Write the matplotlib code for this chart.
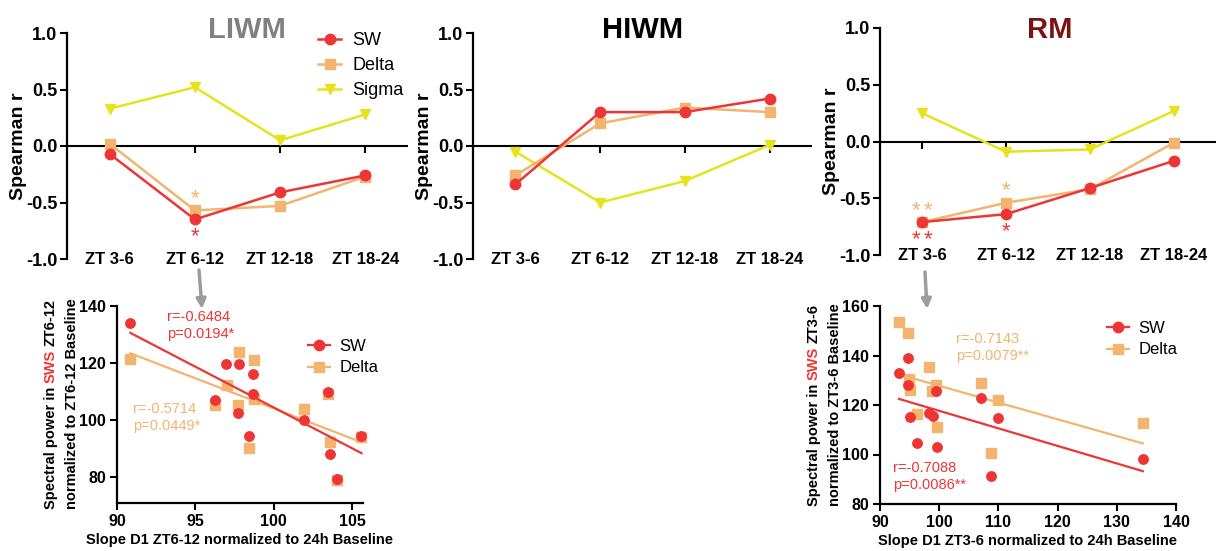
import matplotlib.pyplot as plt
import numpy as np
from matplotlib.lines import Line2D

plt.rcParams['font.family'] = ['Liberation Sans', 'DejaVu Sans']
plt.rcParams['axes.unicode_minus'] = False

W, H = 1217, 551

# top panels: Spearman r per time window
zt_labels = ['ZT 3-6', 'ZT 6-12', 'ZT 12-18', 'ZT 18-24']

liwm_sw = [-0.07, -0.65, -0.41, -0.26]
liwm_delta = [0.02, -0.57, -0.53, -0.27]
liwm_sigma = [0.33, 0.52, 0.05, 0.28]

hiwm_sw = [-0.34, 0.30, 0.30, 0.42]
hiwm_delta = [-0.26, 0.20, 0.34, 0.30]
hiwm_sigma = [-0.05, -0.50, -0.31, 0.01]

rm_sw = [-0.71, -0.64, -0.41, -0.17]
rm_delta = [-0.71, -0.54, -0.42, -0.01]
rm_sigma = [0.25, -0.09, -0.07, 0.27]

# bottom-left scatter (ZT6-12, LIWM)
l_sw_x = [90.85, 96.98, 97.77, 97.71, 96.28, 98.40, 98.68, 98.68, 101.96, 103.45, 103.62, 104.04, 105.6]
l_sw_y = [134.1, 119.8, 119.8, 102.5, 107.2, 94.3, 116.3, 109.1, 100.2, 109.9, 88.0, 79.4, 94.4]
l_delta_x = [90.85, 97.77, 98.72, 97.02, 96.28, 97.71, 98.72, 98.40, 101.96, 103.45, 103.62, 104.04, 105.6]
l_delta_y = [121.4, 124.0, 121.0, 112.2, 105.4, 105.4, 107.5, 90.3, 104.0, 109.1, 92.4, 79.2, 94.1]

# bottom-right scatter (ZT3-6, RM)
r_sw_x = [93.2, 94.8, 94.8, 95.0, 96.2, 98.3, 98.9, 99.4, 99.6, 107.1, 108.8, 110.0, 134.4]
r_sw_y = [132.8, 138.9, 128.1, 115.3, 104.5, 116.9, 115.6, 125.7, 103.2, 122.8, 91.4, 114.6, 98.0]
r_delta_x = [93.2, 94.8, 94.9, 95.0, 96.3, 98.3, 98.7, 99.5, 99.6, 107.0, 108.8, 110.0, 134.4]
r_delta_y = [153.7, 149.0, 130.4, 126.1, 116.2, 135.2, 125.7, 128.1, 111.2, 129.0, 100.7, 122.0, 112.9]

red = '#EE3535'
orange = '#F2B46E'
yellow = '#E6E21E'
grey_title = '#808080'
rm_color = '#7A1212'


def box(left, top, right, bottom):
    return [left / W, 1 - bottom / H, (right - left) / W, (bottom - top) / H]


fig = plt.figure(figsize=(W / 100, H / 100), dpi=100)


def top_panel(ax, sw, delta, sigma):
    x = np.arange(len(zt_labels))
    ax.plot(x, sigma, color=yellow, marker='v', ms=7.5, lw=1.8, label='Sigma', zorder=3, clip_on=False)
    ax.plot(x, delta, color=orange, marker='s', ms=7, lw=1.8, label='Delta', zorder=4, clip_on=False)
    ax.plot(x, sw, color=red, marker='o', ms=7.5, lw=1.8, label='SW', zorder=5, clip_on=False)
    ax.set_xlim(-0.5, 3.5)
    ax.set_ylim(-1, 1)
    for s in ['top', 'right', 'bottom']:
        ax.spines[s].set_visible(False)
    ax.spines['left'].set_linewidth(1.6)
    ax.axhline(0, color='black', lw=1.5, zorder=2)
    ax.plot(x, np.zeros(len(x)), ls='none', marker=3, ms=5, mew=1.5, color='black', zorder=2)
    ax.set_xticks([])
    for i, lab in enumerate(zt_labels):
        ax.text(i, -1.0, lab, ha='center', va='center', fontsize=12, fontweight='bold')
    ax.set_yticks([-1, -0.5, 0, 0.5, 1])
    ax.set_yticklabels(['-1.0', '-0.5', '0.0', '0.5', '1.0'])
    ax.tick_params(axis='y', length=5, width=1.5, pad=2, labelsize=13)
    for t in ax.get_yticklabels():
        t.set_fontweight('bold')
    ax.set_ylabel('Spearman r', fontsize=14, fontweight='bold', labelpad=-1)
    ax.patch.set_visible(False)


def star(ax, n, x, y, color, up):
    dy = 8.5 if up else -12.5
    offsets = [0] if n == 1 else [-4.4, 4.4]
    for dx in offsets:
        ax.annotate('*', xy=(x, y), xytext=(dx, dy), textcoords='offset points',
                    ha='center', va='center', color=color, fontsize=16)


ax1 = fig.add_axes(box(67, 33, 408, 259))
top_panel(ax1, liwm_sw, liwm_delta, liwm_sigma)
star(ax1, 1, 1, liwm_delta[1], orange, True)
star(ax1, 1, 1, liwm_sw[1], red, False)
ax1.legend(loc='center left', bbox_to_anchor=(318 / W, 1 - 65.5 / H), bbox_transform=fig.transFigure,
           frameon=False, fontsize=13, handlelength=1.3, handletextpad=0.6, labelspacing=0.45,
           borderpad=0, borderaxespad=0, reverse=True)

ax2 = fig.add_axes(box(473, 33, 812, 259))
top_panel(ax2, hiwm_sw, hiwm_delta, hiwm_sigma)

ax3 = fig.add_axes(box(880, 28, 1216, 255))
top_panel(ax3, rm_sw, rm_delta, rm_sigma)
star(ax3, 2, 0, rm_delta[0], orange, True)
star(ax3, 2, 0, rm_sw[0], red, False)
star(ax3, 1, 1, rm_delta[1], orange, True)
star(ax3, 1, 1, rm_sw[1], red, False)

fig.text(247 / W, 1 - 38 / H, 'LIWM', ha='center', va='baseline', fontsize=21, fontweight='bold', color=grey_title)
fig.text(643 / W, 1 - 38 / H, 'HIWM', ha='center', va='baseline', fontsize=21, fontweight='bold', color='black')
fig.text(1050 / W, 1 - 38 / H, 'RM', ha='center', va='baseline', fontsize=21, fontweight='bold', color=rm_color)


def scatter_panel(ax, sx, sy, dx, dy):
    for xs, ys, c, m in [(dx, dy, orange, 's'), (sx, sy, red, 'o')]:
        xs = np.array(xs)
        ys = np.array(ys)
        ax.plot(xs, ys, ls='none', marker=m, ms=6.8, color=c, clip_on=False)
        coef = np.polyfit(xs, ys, 1)
        xl = np.array([xs.min(), xs.max()])
        ax.plot(xl, np.polyval(coef, xl), color=c, lw=1.6)
    for s in ['top', 'right']:
        ax.spines[s].set_visible(False)
    for s in ['left', 'bottom']:
        ax.spines[s].set_linewidth(1.6)
    ax.tick_params(length=5, width=1.5, labelsize=11.5, pad=3)
    ax.patch.set_visible(False)
    handles = [Line2D([], [], color=red, marker='o', ms=7.5, lw=1.6),
               Line2D([], [], color=orange, marker='s', ms=7.5, lw=1.6)]
    return handles


ax4 = fig.add_axes(box(117, 306, 363, 503))
h4 = scatter_panel(ax4, l_sw_x, l_sw_y, l_delta_x, l_delta_y)
ax4.set_xlim(90, 105.7)
ax4.set_ylim(71, 140)
ax4.set_xticks([90, 95, 100, 105])
ax4.set_yticks([80, 100, 120, 140])
for t in ax4.get_xticklabels() + ax4.get_yticklabels():
    t.set_fontweight('bold')
ax4.set_xlabel('Slope D1 ZT6-12 normalized to 24h Baseline', fontsize=10.5, fontweight='bold', labelpad=3)
ax4.legend(h4, ['SW', 'Delta'], loc='center left', bbox_to_anchor=(308 / W, 1 - 357 / H),
           bbox_transform=fig.transFigure, frameon=False, fontsize=12, handlelength=1.3,
           handletextpad=0.6, labelspacing=0.4, borderpad=0, borderaxespad=0)
ax4.text(93.2, 138.6, 'r=-0.6484\np=0.0194*', color=red, fontsize=10.5, va='top', ha='left', linespacing=1.25)
ax4.text(91.0, 106.3, 'r=-0.5714\np=0.0449*', color=orange, fontsize=10.5, va='top', ha='left', linespacing=1.25)

ax5 = fig.add_axes(box(880, 306, 1176, 504))
h5 = scatter_panel(ax5, r_sw_x, r_sw_y, r_delta_x, r_delta_y)
ax5.set_xlim(90, 140)
ax5.set_ylim(80, 160)
ax5.set_xticks([90, 100, 110, 120, 130, 140])
ax5.set_yticks([80, 100, 120, 140, 160])
for t in ax5.get_xticklabels() + ax5.get_yticklabels():
    t.set_fontweight('bold')
ax5.set_xlabel('Slope D1 ZT3-6 normalized to 24h Baseline', fontsize=10.5, fontweight='bold', labelpad=3)
ax5.legend(h5, ['SW', 'Delta'], loc='center left', bbox_to_anchor=(1107 / W, 1 - 339 / H),
           bbox_transform=fig.transFigure, frameon=False, fontsize=12, handlelength=1.3,
           handletextpad=0.6, labelspacing=0.4, borderpad=0, borderaxespad=0)
ax5.text(102.8, 149.5, 'r=-0.7143\np=0.0079**', color=orange, fontsize=10.5, va='top', ha='left', linespacing=1.25)
ax5.text(92.2, 97.4, 'r=-0.7088\np=0.0086**', color=red, fontsize=10.5, va='top', ha='left', linespacing=1.25)

# two-line y labels, first line with red "SWS"
renderer = fig.canvas.get_renderer()
ylab_size = 10.5


def colored_ylabel(x1, x2, yc, zt):
    pieces = [('Spectral power in', 'black'), ('SWS', red), (zt, 'black')]
    probe1 = fig.text(0, 0, 'a a', fontsize=ylab_size, fontweight='bold', rotation=90)
    probe2 = fig.text(0, 0, 'aa', fontsize=ylab_size, fontweight='bold', rotation=90)
    gap = probe1.get_window_extent(renderer).height - probe2.get_window_extent(renderer).height
    probe1.remove()
    probe2.remove()
    texts, hs = [], []
    for s, c in pieces:
        t = fig.text(0, 0, s, rotation=90, color=c, fontsize=ylab_size, fontweight='bold', ha='center', va='bottom')
        texts.append(t)
        hs.append(t.get_window_extent(renderer).height)
    total = sum(hs) + gap * (len(hs) - 1)
    y = (H - yc) - total / 2
    for t, h in zip(texts, hs):
        t.set_position((x1 / W, y / H))
        y += h + gap
    fig.text(x2 / W, 1 - yc / H, 'normalized to ' + zt + ' Baseline', rotation=90, fontsize=ylab_size,
             fontweight='bold', ha='center', va='center')


colored_ylabel(51, 72, 404, 'ZT6-12')
colored_ylabel(814, 835, 405, 'ZT3-6')

# grey arrows linking the panels
arrow = dict(arrowstyle='-|>', color='#9C9C9C', lw=2.5, mutation_scale=14, shrinkA=0, shrinkB=0)
fig.add_artist(plt.Annotation('', xy=(202, H - 309), xycoords='figure pixels',
                              xytext=(199, H - 270), textcoords='figure pixels', arrowprops=arrow))
fig.add_artist(plt.Annotation('', xy=(927, H - 309), xycoords='figure pixels',
                              xytext=(925, H - 272), textcoords='figure pixels', arrowprops=arrow))

fig.savefig('out.png', dpi=100)
